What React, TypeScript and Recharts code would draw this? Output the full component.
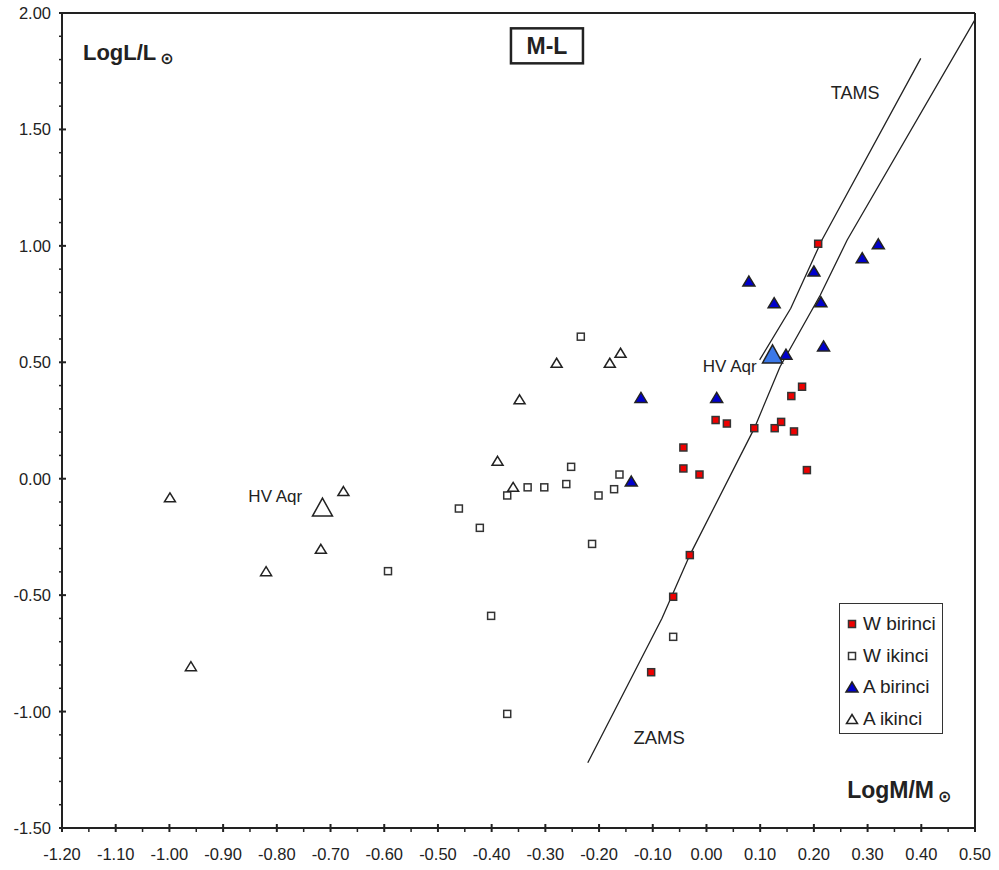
import React from "react";
import {
  ScatterChart,
  Scatter,
  XAxis,
  YAxis,
  ReferenceLine,
  ReferenceDot,
  Legend,
} from "recharts";

const FONT = "'Liberation Sans', Arial, Helvetica, sans-serif";
const INK = "#222";

// W birinci (filled red squares)
const wBirinci = [
  { x: 0.208, y: 1.009 },
  { x: 0.178, y: 0.395 },
  { x: 0.158, y: 0.355 },
  { x: 0.017, y: 0.252 },
  { x: 0.038, y: 0.237 },
  { x: 0.089, y: 0.217 },
  { x: 0.127, y: 0.217 },
  { x: 0.139, y: 0.244 },
  { x: 0.163, y: 0.203 },
  { x: -0.043, y: 0.134 },
  { x: -0.043, y: 0.044 },
  { x: -0.013, y: 0.018 },
  { x: 0.187, y: 0.037 },
  { x: -0.031, y: -0.328 },
  { x: -0.062, y: -0.507 },
  { x: -0.103, y: -0.831 },
];

// W ikinci (open squares)
const wIkinci = [
  { x: -0.234, y: 0.61 },
  { x: -0.252, y: 0.051 },
  { x: -0.162, y: 0.018 },
  { x: -0.261, y: -0.023 },
  { x: -0.172, y: -0.045 },
  { x: -0.201, y: -0.072 },
  { x: -0.302, y: -0.037 },
  { x: -0.333, y: -0.037 },
  { x: -0.371, y: -0.072 },
  { x: -0.461, y: -0.128 },
  { x: -0.422, y: -0.211 },
  { x: -0.213, y: -0.28 },
  { x: -0.593, y: -0.397 },
  { x: -0.401, y: -0.589 },
  { x: -0.371, y: -1.01 },
  { x: -0.062, y: -0.679 },
];

// A birinci (filled blue triangles)
const aBirinci = [
  { x: 0.32, y: 1.009 },
  { x: 0.29, y: 0.949 },
  { x: 0.2, y: 0.892 },
  { x: 0.079, y: 0.849 },
  { x: 0.126, y: 0.756 },
  { x: 0.213, y: 0.76 },
  { x: 0.218, y: 0.57 },
  { x: 0.148, y: 0.535 },
  { x: 0.019, y: 0.349 },
  { x: -0.122, y: 0.349 },
  { x: -0.14, y: -0.01 },
];

// A ikinci (open triangles)
const aIkinci = [
  { x: -0.279, y: 0.498 },
  { x: -0.18, y: 0.498 },
  { x: -0.16, y: 0.541 },
  { x: -0.348, y: 0.341 },
  { x: -0.389, y: 0.077 },
  { x: -0.36, y: -0.035 },
  { x: -0.676, y: -0.053 },
  { x: -0.999, y: -0.08 },
  { x: -0.718, y: -0.301 },
  { x: -0.82, y: -0.397 },
  { x: -0.96, y: -0.805 },
];

// HV Aqr components
const hvAqrPrimary = [{ x: 0.123, y: 0.536 }];
const hvAqrSecondary = [{ x: -0.715, y: -0.122 }];

// evolution lines
const zams = [
  { x: -0.221, y: -1.22 },
  { x: -0.083, y: -0.6 },
  { x: -0.031, y: -0.328 },
  { x: 0.089, y: 0.216 },
  { x: 0.137, y: 0.481 },
  { x: 0.212, y: 0.789 },
  { x: 0.262, y: 1.025 },
  { x: 0.499, y: 1.967 },
];
const tams = [
  { x: 0.099, y: 0.51 },
  { x: 0.157, y: 0.732 },
  { x: 0.215, y: 1.025 },
  { x: 0.399, y: 1.805 },
];

const xMajorTicks = [
  -1.2, -1.1, -1.0, -0.9, -0.8, -0.7, -0.6, -0.5, -0.4, -0.3, -0.2, -0.1, 0.0,
  0.1, 0.2, 0.3, 0.4, 0.5,
];
const yMajorTicks = [-1.5, -1.0, -0.5, 0.0, 0.5, 1.0, 1.5, 2.0];

const xTicks = xMajorTicks.flatMap((v, i) =>
  i < xMajorTicks.length - 1 ? [v, +(v + 0.05).toFixed(2)] : [v]
);
const yTicks = yMajorTicks.flatMap((v, i) =>
  i < yMajorTicks.length - 1
    ? [0, 1, 2, 3, 4].map((k) => +(v + k * 0.1).toFixed(2))
    : [v]
);

const legendItems = [
  { name: "W birinci", kind: "redSquare" },
  { name: "W ikinci", kind: "openSquare" },
  { name: "A birinci", kind: "blueTri" },
  { name: "A ikinci", kind: "openTri" },
];

const isMajor = (v: number, step: number) =>
  Math.abs(Math.round(v * 100) % Math.round(step * 100)) === 0;

const XTick = (props: any) => {
  const { x, y, payload } = props;
  const major = isMajor(payload.value, 0.1);
  return (
    <g>
      <line
        x1={x}
        x2={x}
        y1={major ? y - 4 : y}
        y2={y + 4}
        stroke={INK}
        strokeWidth={major ? 2 : 1.5}
      />
      {major && (
        <text
          x={x}
          y={y + 31.5}
          textAnchor="middle"
          fontFamily={FONT}
          fontSize={16.5}
          fill={INK}
        >
          {payload.value.toFixed(2)}
        </text>
      )}
    </g>
  );
};

const YTick = (props: any) => {
  const { x, y, payload } = props;
  const major = isMajor(payload.value, 0.5);
  return (
    <g>
      <line
        x1={x - 3}
        x2={major ? x + 4 : x}
        y1={y}
        y2={y}
        stroke={INK}
        strokeWidth={major ? 2 : 1.5}
      />
      {major && (
        <text
          x={x - 11}
          y={y + 6}
          textAnchor="end"
          fontFamily={FONT}
          fontSize={16.5}
          fill={INK}
        >
          {payload.value.toFixed(2)}
        </text>
      )}
    </g>
  );
};

const square = (fill: string, size = 7) => (p: any) => (
  <rect
    x={p.cx - size / 2}
    y={p.cy - size / 2}
    width={size}
    height={size}
    fill={fill}
    stroke="#333"
    strokeWidth={1.5}
  />
);

const triangle =
  (fill: string, w: number, h: number, sw = 1.5) =>
  (p: any) => (
    <polygon
      points={`${p.cx},${p.cy - h / 2} ${p.cx + w / 2},${p.cy + h / 2} ${
        p.cx - w / 2
      },${p.cy + h / 2}`}
      fill={fill}
      stroke={INK}
      strokeWidth={sw}
      strokeLinejoin="miter"
    />
  );

const markers: Record<string, (p: any) => React.ReactElement> = {
  redSquare: square("#ee0000"),
  openSquare: square("#fff"),
  blueTri: triangle("#0000cc", 12, 10),
  openTri: triangle("#fff", 11, 9),
};

const renderLegend = () => (
  <div
    style={{
      width: 102,
      height: 125,
      border: "1px solid #333",
      background: "#fff",
      paddingTop: 4,
      boxSizing: "content-box",
      fontFamily: FONT,
      fontSize: 19,
      color: INK,
    }}
  >
    {legendItems.map((it) => (
      <div
        key={it.name}
        style={{ height: 31.7, display: "flex", alignItems: "center" }}
      >
        <svg width={22} height={16} style={{ flex: "none" }}>
          {markers[it.kind]({ cx: 12, cy: 8 })}
        </svg>
        <span style={{ marginLeft: 1, whiteSpace: "nowrap" }}>{it.name}</span>
      </div>
    ))}
  </div>
);

const textAt =
  (content: React.ReactNode, size: number, bold = false) =>
  (p: any) => (
    <text
      x={p.cx}
      y={p.cy}
      fontFamily={FONT}
      fontSize={size}
      fontWeight={bold ? "bold" : "normal"}
      fill={INK}
    >
      {content}
    </text>
  );

const sun = (
  <tspan
    fontFamily="'DejaVu Sans', sans-serif"
    fontSize={16}
    fontWeight="bold"
    dx={4}
    dy={4}
  >
    ⊙
  </tspan>
);

const titleBox = (p: any) => (
  <g>
    <rect
      x={p.cx - 36}
      y={p.cy - 17.5}
      width={72}
      height={35}
      fill="#fff"
      stroke={INK}
      strokeWidth={2.5}
    />
    <text
      x={p.cx}
      y={p.cy + 8}
      textAnchor="middle"
      fontFamily={FONT}
      fontSize={23}
      fontWeight="bold"
      fill={INK}
    >
      M-L
    </text>
  </g>
);

const noDot = () => <g />;

export default function App() {
  return (
    <div style={{ position: "absolute", left: 0, top: 0, background: "#fff" }}>
      <ScatterChart
        width={999}
        height={870}
        margin={{ top: 13, right: 24, bottom: 0, left: 0 }}
      >
        <XAxis
          type="number"
          dataKey="x"
          domain={[-1.2, 0.5]}
          ticks={xTicks}
          interval={0}
          allowDataOverflow
          height={42}
          tickSize={0}
          tickMargin={0}
          tickLine={false}
          axisLine={{ stroke: INK, strokeWidth: 2 }}
          tick={<XTick />}
        />
        <YAxis
          type="number"
          dataKey="y"
          domain={[-1.5, 2.0]}
          ticks={yTicks}
          interval={0}
          allowDataOverflow
          width={62}
          tickSize={0}
          tickMargin={0}
          tickLine={false}
          axisLine={{ stroke: INK, strokeWidth: 2 }}
          tick={<YTick />}
        />
        <ReferenceLine y={2.0} stroke={INK} strokeWidth={2} />
        <ReferenceLine x={0.5} stroke={INK} strokeWidth={2} />

        <Scatter
          name="ZAMS"
          data={zams}
          line={{ stroke: INK, strokeWidth: 1.3 }}
          lineType="joint"
          shape={noDot}
          legendType="none"
          isAnimationActive={false}
        />
        <Scatter
          name="TAMS"
          data={tams}
          line={{ stroke: INK, strokeWidth: 1.3 }}
          lineType="joint"
          shape={noDot}
          legendType="none"
          isAnimationActive={false}
        />

        <Scatter name="W ikinci" data={wIkinci} shape={markers.openSquare} isAnimationActive={false} />
        <Scatter name="A ikinci" data={aIkinci} shape={markers.openTri} isAnimationActive={false} />
        <Scatter name="W birinci" data={wBirinci} shape={markers.redSquare} isAnimationActive={false} />
        <Scatter name="A birinci" data={aBirinci} shape={markers.blueTri} isAnimationActive={false} />
        <Scatter
          name="HV Aqr A"
          data={hvAqrPrimary}
          shape={triangle("#3b78e8", 20, 18)}
          legendType="none"
          isAnimationActive={false}
        />
        <Scatter
          name="HV Aqr B"
          data={hvAqrSecondary}
          shape={triangle("#fff", 20, 18)}
          legendType="none"
          isAnimationActive={false}
        />

        <ReferenceDot x={-0.297} y={1.859} r={0} shape={titleBox} />
        <ReferenceDot x={-1.161} y={1.798} r={0} shape={textAt(<>LogL/L{sun}</>, 22, true)} />
        <ReferenceDot x={0.262} y={-1.372} r={0} shape={textAt(<>LogM/M{sun}</>, 23, true)} />
        <ReferenceDot x={0.2314} y={1.6306} r={0} shape={textAt("TAMS", 18)} />
        <ReferenceDot x={-0.136} y={-1.14} r={0} shape={textAt("ZAMS", 18.5)} />
        <ReferenceDot x={-0.0069} y={0.458} r={0} shape={textAt("HV Aqr", 17)} />
        <ReferenceDot x={-0.853} y={-0.099} r={0} shape={textAt("HV Aqr", 17)} />

        <Legend
          layout="vertical"
          align="center"
          verticalAlign="middle"
          content={renderLegend}
          wrapperStyle={{ left: 839, top: 603, width: "auto" }}
        />
      </ScatterChart>
    </div>
  );
}
